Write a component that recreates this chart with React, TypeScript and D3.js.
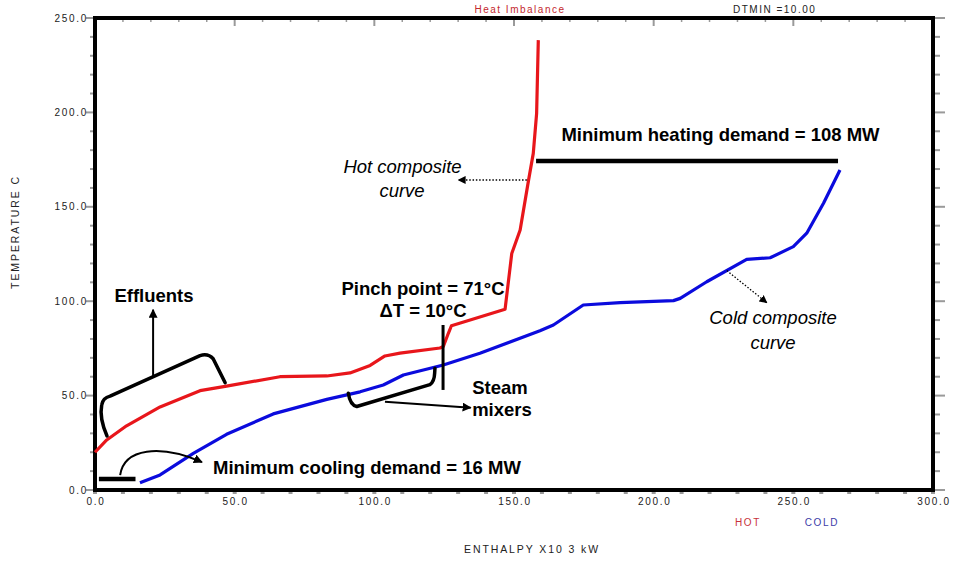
import React from "react";
import * as d3 from "d3";

// ---------- data ----------
const hotH = [0, 4.2, 11.3, 23.3, 37.6, 47.1, 66.2, 83, 91.3, 98.5, 103.8, 109.2, 123.5, 124.7, 126.5, 127.6, 146.8, 149.2, 152.2, 155.2, 156.9, 158.1, 158.7];
const hotT = [20, 26.5, 34, 44, 52.6, 55, 60, 60.4, 62, 66, 71, 72.5, 75.2, 76, 83, 87, 95.7, 125.3, 137.7, 164, 178.3, 199.5, 238.3];
const coldH = [16.1, 23.3, 35.2, 47.1, 63.8, 83, 94.9, 103.2, 110.4, 124.7, 137.8, 159.3, 164.1, 174.8, 188, 207.1, 209.5, 219, 233.3, 241.7, 250, 254.8, 260.8, 266.7];
const coldT = [3.9, 8, 19.4, 29.5, 40.3, 48, 52, 55.6, 60.9, 66.2, 72.4, 84.4, 87.4, 98, 99.2, 100.3, 101.5, 110.3, 122.2, 123, 128.9, 136, 151.9, 169.5];

const xTicks = [0, 50, 100, 150, 200, 250, 300];
const yTicks = [0, 50, 100, 150, 200, 250];
const xMinor = d3.range(0, 301, 10);
const yMinor = d3.range(0, 251, 10);

// annotation anchors (data units)
const heatingBar = { h0: 157.9, h1: 266, t: 174.3 };
const coolingBar = { h0: 1.4, h1: 14.5, t: 5.8 };
const pinchLine = { h: 124.6, t0: 53, t1: 87.4 };

const W = 956;
const H = 562;
const x = d3.scaleLinear().domain([0, 300]).range([95, 933]);
const y = d3.scaleLinear().domain([0, 250]).range([490, 18]);

const RED = "#e8161b";
const BLUE = "#0b0bdd";
const TICK = "#9a9a9a";
const SMALL = { fontFamily: "Liberation Sans, Arial, sans-serif", fontSize: 10, letterSpacing: 1.7 };
const AXT = { fontFamily: "Liberation Sans, Arial, sans-serif", fontSize: 10.5, letterSpacing: 1.9 };
const BIG = { fontFamily: "Liberation Sans, Arial, sans-serif", fontSize: 18.5, fontWeight: 700 as const };
const ITAL = { fontFamily: "Liberation Sans, Arial, sans-serif", fontSize: 18.5, fontStyle: "italic" as const };

const P = (h: number, t: number): [number, number] => [x(h), y(t)];
const pt = (h: number, t: number) => P(h, t).join(",");

export default function App() {
  const line = d3
    .line<[number, number]>()
    .x((d) => x(d[0]))
    .y((d) => y(d[1]));
  const hot = hotH.map((h, i) => [h, hotT[i]] as [number, number]);
  const cold = coldH.map((h, i) => [h, coldT[i]] as [number, number]);

  const effluentBracket = `M${pt(4.3, 28.6)} Q${pt(1.5, 38)} ${pt(2.4, 45)} Q${pt(2.8, 48.8)} ${pt(5.4, 49.7)} L${pt(37.6, 71.2)} Q${pt(40.5, 72.5)} ${pt(42.3, 69.5)} L${pt(46.6, 56.8)}`;
  const steamBracket = `M${pt(90.7, 51.2)} Q${pt(91.3, 45)} ${pt(93.7, 44.2)} L${pt(119.9, 55.8)} Q${pt(121.5, 57.5)} ${pt(121.6, 62)} L${pt(121.7, 64.5)}`;
  const coolArc = `M${pt(9, 7.9)} C${pt(10.4, 22.2)} ${pt(23.3, 24.4)} ${pt(38.3, 14.8)}`;

  return (
    <svg width={W} height={H} style={{ position: "absolute", left: 0, top: 0, background: "#fff" }}>
      <defs>
        <marker id="ah" viewBox="0 0 10 10" refX="9" refY="5" markerWidth="9" markerHeight="9" markerUnits="userSpaceOnUse" orient="auto">
          <path d="M0,0 L10,5 L0,10 z" fill="#000" />
        </marker>
        <marker id="ahs" viewBox="0 0 10 10" refX="9" refY="5" markerWidth="8" markerHeight="8" markerUnits="userSpaceOnUse" orient="auto">
          <path d="M0,0 L10,5 L0,10 z" fill="#000" />
        </marker>
      </defs>

      {/* header */}
      <text x={520} y={13} textAnchor="middle" fill="#c4282e" style={{ ...SMALL, letterSpacing: 1.5 }}>Heat Imbalance</text>
      <text x={733} y={13} fill="#222" style={{ ...SMALL, letterSpacing: 1.5 }}>DTMIN =10.00</text>

      {/* minor / major ticks */}
      {yMinor.map((t) => (
        <g key={"yl" + t}>
          <line x1={x(0) - (t % 50 === 0 ? 9 : 5)} x2={x(0)} y1={y(t)} y2={y(t)} stroke={TICK} strokeWidth={2} />
          <line x1={x(300)} x2={x(300) + (t % 50 === 0 ? 12 : 7)} y1={y(t)} y2={y(t)} stroke={TICK} strokeWidth={2} />
        </g>
      ))}
      {xMinor.map((h) => (
        <g key={"xt" + h}>
          <line x1={x(h)} x2={x(h)} y1={y(250)} y2={y(250) + (h % 50 === 0 ? 8 : 4)} stroke={TICK} strokeWidth={h % 50 === 0 ? 2 : 1.5} />
          <line x1={x(h) - 2} x2={x(h) + 2} y1={y(0) + 3} y2={y(0) + 3} stroke={TICK} strokeWidth={2} />
        </g>
      ))}

      {/* frame */}
      <rect x={x(0)} y={y(250)} width={x(300) - x(0)} height={y(0) - y(250)} fill="none" stroke="#000" strokeWidth={4} />

      {/* tick labels */}
      {yTicks.map((t) => (
        <text key={"yv" + t} x={x(0) - 7} y={y(t) + 3.5} textAnchor="end" fill="#222" style={SMALL}>
          {t.toFixed(1)}
        </text>
      ))}
      {xTicks.map((h) => (
        <text key={"xv" + h} x={x(h) + 1} y={y(0) + 15} textAnchor="middle" fill="#222" style={SMALL}>
          {h.toFixed(1)}
        </text>
      ))}

      {/* axis titles & legend */}
      <text x={532} y={553} textAnchor="middle" fill="#222" style={AXT}>ENTHALPY X10 3 kW</text>
      <text transform={`translate(19,232) rotate(-90)`} textAnchor="middle" fill="#222" style={AXT}>TEMPERATURE C</text>
      <text x={748} y={526} textAnchor="middle" fill="#c8323c" style={SMALL}>HOT</text>
      <text x={822} y={526} textAnchor="middle" fill="#3c3ca8" style={SMALL}>COLD</text>

      {/* composite curves */}
      <path d={line(hot) || ""} fill="none" stroke={RED} strokeWidth={3.2} strokeLinejoin="round" />
      <path d={line(cold) || ""} fill="none" stroke={BLUE} strokeWidth={3.2} strokeLinejoin="round" />

      {/* heating demand */}
      <line x1={x(heatingBar.h0)} x2={x(heatingBar.h1)} y1={y(heatingBar.t)} y2={y(heatingBar.t)} stroke="#000" strokeWidth={4.5} />
      <text x={720.5} y={140.5} textAnchor="middle" style={BIG}>Minimum heating demand = 108 MW</text>

      {/* cooling demand */}
      <line x1={x(coolingBar.h0)} x2={x(coolingBar.h1)} y1={y(coolingBar.t)} y2={y(coolingBar.t)} stroke="#000" strokeWidth={4.5} />
      <path d={coolArc} fill="none" stroke="#000" strokeWidth={2} markerEnd="url(#ah)" />
      <text x={213} y={474} style={BIG}>Minimum cooling demand = 16 MW</text>

      {/* pinch */}
      <line x1={x(pinchLine.h)} x2={x(pinchLine.h)} y1={y(pinchLine.t0)} y2={y(pinchLine.t1)} stroke="#000" strokeWidth={3} />
      <text x={423} y={295} textAnchor="middle" style={BIG}>Pinch point = 71°C</text>
      <text x={423} y={317.3} textAnchor="middle" style={BIG}>ΔT = 10°C</text>

      {/* hot composite label */}
      <line x1={x(154.6)} x2={x(130.1)} y1={y(164.2)} y2={y(164.2)} stroke="#000" strokeWidth={1.3} strokeDasharray="1.5,1.8" markerEnd="url(#ahs)" />
      <text x={402.5} y={172.7} textAnchor="middle" style={ITAL}>Hot composite</text>
      <text x={402} y={196.7} textAnchor="middle" style={ITAL}>curve</text>

      {/* cold composite label */}
      <line x1={x(226.2)} x2={x(240.5)} y1={y(116.2)} y2={y(99.2)} stroke="#000" strokeWidth={1.3} strokeDasharray="1.5,1.8" markerEnd="url(#ahs)" />
      <text x={773} y={324} textAnchor="middle" style={ITAL}>Cold composite</text>
      <text x={773} y={348.7} textAnchor="middle" style={ITAL}>curve</text>

      {/* effluents */}
      <path d={effluentBracket} fill="none" stroke="#000" strokeWidth={3.5} strokeLinejoin="round" strokeLinecap="round" />
      <line x1={x(20.8)} x2={x(20.8)} y1={y(60.4)} y2={y(95.5)} stroke="#000" strokeWidth={2} markerEnd="url(#ah)" />
      <text x={154} y={301.7} textAnchor="middle" style={BIG}>Effluents</text>

      {/* steam mixers */}
      <path d={steamBracket} fill="none" stroke="#000" strokeWidth={3.5} strokeLinejoin="round" strokeLinecap="round" />
      <line x1={x(103.8)} x2={x(134.5)} y1={y(46.8)} y2={y(43.6)} stroke="#000" strokeWidth={2} markerEnd="url(#ah)" />
      <text x={500} y={394} textAnchor="middle" style={BIG}>Steam</text>
      <text x={502} y={416} textAnchor="middle" style={BIG}>mixers</text>
    </svg>
  );
}
